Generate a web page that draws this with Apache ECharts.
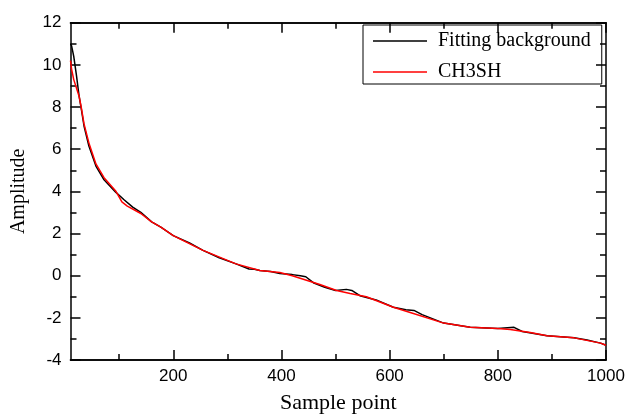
<!DOCTYPE html>
<html>
<head>
<meta charset="utf-8">
<script src="https://cdn.jsdelivr.net/npm/echarts@6/dist/echarts.min.js"></script>
<style>
  html, body { margin: 0; padding: 0; background: #fff; }
  #main { width: 629px; height: 419px; }
</style>
</head>
<body>
<div id="main"></div>
<script>
// fitting background (black)
const bgX = [10, 12, 16, 21, 26, 30, 35, 44, 57, 72, 94, 109, 125, 140, 160, 177, 200, 230, 255, 285,
  316, 340, 350, 360, 380, 397, 420, 435, 445, 460, 480, 500, 520, 530, 545, 575, 607, 630, 645, 660,
  700, 749, 800, 830, 845, 891, 941, 965, 990, 1000];
const bgY = [11.0, 10.9, 10.4, 9.5, 8.5, 7.9, 7.1, 6.15, 5.2, 4.55, 3.95, 3.6, 3.25, 3.0, 2.55, 2.3, 1.9, 1.55, 1.2, 0.85,
  0.56, 0.32, 0.3, 0.25, 0.2, 0.1, 0.05, 0.0, -0.05, -0.35, -0.55, -0.7, -0.65, -0.7, -0.95, -1.15, -1.5, -1.62, -1.65, -1.85,
  -2.25, -2.45, -2.5, -2.45, -2.65, -2.85, -2.95, -3.05, -3.2, -3.3];

// CH3SH (red)
const fitX = [10, 12, 16, 21, 26, 30, 35, 44, 57, 72, 94, 105, 115, 140, 160, 177, 200, 255, 316, 360,
  397, 420, 471, 502, 527, 557, 607, 638, 700, 749, 800, 823, 860, 891, 941, 990, 1000];
const fitY = [10.2, 9.8, 9.3, 8.9, 8.5, 7.97, 7.2, 6.3, 5.3, 4.65, 4.0, 3.5, 3.3, 2.95, 2.55, 2.3, 1.9, 1.2, 0.56, 0.25,
  0.15, 0.0, -0.42, -0.7, -0.85, -1.0, -1.5, -1.75, -2.25, -2.45, -2.5, -2.55, -2.7, -2.85, -2.95, -3.2, -3.3];

const majorX = [200, 400, 600, 800, 1000];
const minorX = [100, 300, 500, 700, 900];

const pairs = (xs, ys) => xs.map((x, i) => [x, ys[i]]);

const myChart = echarts.init(document.getElementById('main'));

const tickFont = { color: '#000', fontFamily: 'Liberation Sans', fontSize: 17 };
const axisStroke = { color: '#000', width: 1.5 };

function xAxisDef(pos, ticks, len, withLabels) {
  return {
    type: 'value', position: pos, min: 10, max: 1000,
    axisLine: { show: true, onZero: false, lineStyle: axisStroke },
    axisTick: { show: true, inside: true, length: len, customValues: ticks, lineStyle: axisStroke },
    axisLabel: withLabels
      ? Object.assign({ customValues: majorX, margin: 8, formatter: v => String(v) }, tickFont)
      : { show: false },
    splitLine: { show: false }
  };
}

function yAxisDef(pos, withLabels) {
  return {
    type: 'value', position: pos, min: -4, max: 12, interval: 2,
    axisLine: { show: true, onZero: false, lineStyle: axisStroke },
    axisTick: { show: true, inside: true, length: 10, lineStyle: axisStroke },
    minorTick: { show: true, splitNumber: 2, length: 6, lineStyle: axisStroke },
    axisLabel: withLabels ? Object.assign({ margin: 9 }, tickFont) : { show: false },
    splitLine: { show: false }
  };
}

const bottomMajor = xAxisDef('bottom', majorX, 10, true);
bottomMajor.name = 'Sample point';
bottomMajor.nameLocation = 'middle';
bottomMajor.nameGap = 32;
bottomMajor.nameTextStyle = { color: '#000', fontFamily: 'Liberation Serif', fontSize: 22 };

const leftAxis = yAxisDef('left', true);
leftAxis.name = 'Amplitude';
leftAxis.nameLocation = 'middle';
leftAxis.nameGap = 42;
leftAxis.nameTextStyle = { color: '#000', fontFamily: 'Liberation Serif', fontSize: 20 };

const option = {
  animation: false,
  grid: { left: 70.5, right: 23, top: 22.7, bottom: 57.3 },
  legend: {
    orient: 'vertical',
    left: 363, top: 25,
    padding: [6, 11, 2, 10],
    itemGap: 11,
    icon: 'rect',
    itemWidth: 54, itemHeight: 1.5,
    borderColor: '#000', borderWidth: 1, borderRadius: 0,
    textStyle: { color: '#000', fontFamily: 'Liberation Serif', fontSize: 20, padding: [0, 0, 0, 6] },
    data: ['Fitting background', 'CH3SH']
  },
  xAxis: [
    bottomMajor,
    xAxisDef('bottom', minorX, 6, false),
    xAxisDef('top', majorX, 10, false),
    xAxisDef('top', minorX, 6, false)
  ],
  yAxis: [leftAxis, yAxisDef('right', false)],
  series: [
    {
      name: 'Fitting background', type: 'line', symbol: 'none',
      data: pairs(bgX, bgY),
      lineStyle: { color: '#000', width: 1.5 }, itemStyle: { color: '#000' }
    },
    {
      name: 'CH3SH', type: 'line', symbol: 'none',
      data: pairs(fitX, fitY),
      lineStyle: { color: '#ff0000', width: 1.5 }, itemStyle: { color: '#ff0000' }
    }
  ]
};

myChart.setOption(option);
</script>
</body>
</html>
